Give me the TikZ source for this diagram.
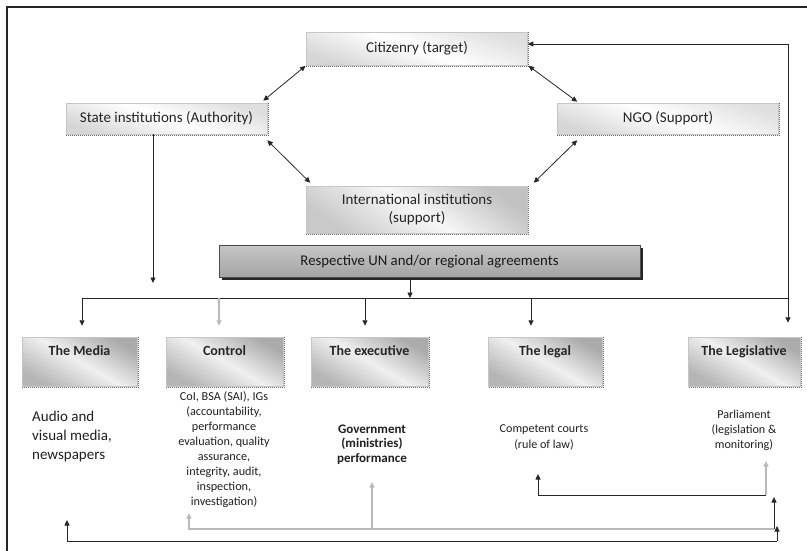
\documentclass[tikz,border=0pt]{standalone}
\usepackage{fontspec}
\setmainfont{Carlito}
\usetikzlibrary{arrows.meta}

% dotted shade along the lower and right edges of a box
\newcommand\edgeshade[1]{%
  \draw[densely dotted, black!60, line width=1pt]
    ([xshift=0.9pt]#1.north east) -- ([xshift=0.9pt,yshift=-0.9pt]#1.south east)
    -- ([yshift=-0.9pt]#1.south west);}

\begin{document}
\begin{tikzpicture}[x=1pt,y=-1pt,
  >={Triangle[length=5.5pt,width=5pt]},
  link/.style={draw=black!85, line width=0.8pt},
  palelink/.style={draw=gray!55, line width=1.3pt},
  boxbase/.style={draw=gray!45, line width=0.5pt, inner sep=0pt, align=center, text=black!85},
  lightbox/.style={boxbase, top color=gray!25, bottom color=gray!32, middle color=white,
    shading angle=-20, font=\fontsize{15}{18}\selectfont},
  midbox/.style={boxbase, top color=gray!48, bottom color=gray!42, middle color=gray!6,
    shading angle=-35, font=\fontsize{15}{18}\selectfont},
  barbox/.style={draw=black!70, line width=0.6pt, inner sep=0pt, top color=gray!45,
    bottom color=gray!72, text=black!90, font=\fontsize{14.8}{16}\selectfont},
  armbox/.style={boxbase, top color=gray!66, bottom color=gray!58, middle color=gray!12,
    shading angle=-30, minimum height=49pt, text height=18.5pt, text depth=30.5pt,
    inner ysep=0pt, font=\bfseries\fontsize{14}{16}\selectfont},
  note/.style={align=center, text=black!88, inner sep=0pt}
]
\useasboundingbox (0,0) rectangle (807,550);

% frame
\draw[gray!30!black, line width=1.2pt] (7,553) -- (7,7) -- (808,7);

% actors
\node[lightbox, minimum width=221pt, minimum height=33pt] (cit) at (417,48.5) {Citizenry (target)};
\node[lightbox, minimum width=201pt, minimum height=31pt] (state) at (166.5,118.5) {State institutions (Authority)};
\node[lightbox, minimum width=221pt, minimum height=31pt] (ngo) at (668,118.5) {NGO (Support)};
\node[midbox, minimum width=221pt, minimum height=47pt] (intl) at (417,209.5) {International institutions\\(support)};
\foreach \n in {cit,state,ngo,intl} {\edgeshade{\n}}

% agreements bar with drop shadow
\fill[black!85] (222,248) rectangle (643,280);
\node[barbox, minimum width=421pt, minimum height=32pt] (un) at (429.5,261.5) {Respective UN and/or regional agreements};

% branches
\node[armbox, minimum width=115pt] (media) at (79.5,361.5) {The Media};
\node[armbox, minimum width=117pt] (ctrl) at (224.5,361.5) {Control};
\node[armbox, minimum width=117pt] (exec) at (369.5,361.5) {The executive};
\node[armbox, minimum width=114pt] (legal) at (545,361.5) {The legal};
\node[armbox, minimum width=112pt] (legis) at (744,361.5) {The Legislative};
\foreach \n in {media,ctrl,exec,legal,legis} {\edgeshade{\n}}

% descriptions
\node[note, anchor=west, align=left, font=\fontsize{15}{19}\selectfont] (mediatxt) at (32,436)
  {Audio and\\visual media,\\newspapers};
\node[note, font=\fontsize{12.2}{14.9}\selectfont] (ctrltxt) at (224,449.5)
  {CoI, BSA (SAI), IGs\\(accountability,\\performance\\evaluation, quality\\assurance,\\integrity, audit,\\inspection,\\investigation)};
\node[note, font=\bfseries\fontsize{13}{14.5}\selectfont] (gov) at (372,444.5)
  {Government\\(ministries)\\performance};
\node[note, font=\fontsize{12.1}{16}\selectfont] (courts) at (544,437)
  {Competent courts\\(rule of law)};
\node[note, font=\fontsize{12.1}{15}\selectfont] (parl) at (744,430)
  {Parliament\\(legislation \&\\monitoring)};

% links among the actors
\draw[link, <->, shorten <=1pt] (cit.south west) -- ([xshift=-4pt,yshift=2pt]state.north east);
\draw[link, <->, shorten <=1pt] (cit.south east) -- ([xshift=20pt,yshift=1pt]ngo.north west);
\draw[link, <->] ([yshift=-6pt]state.south east) -- ([xshift=4pt,yshift=3pt]intl.north west);
\draw[link, <->] ([xshift=20pt,yshift=-6pt]ngo.south west) -- ([xshift=6pt,yshift=3pt]intl.north east);

% citizenry loop on the right
\coordinate (rc) at (788,44);
\draw[link, <->, shorten >=14pt] ([yshift=4.5pt]cit.east) -- (rc) -- (rc |- legis.north);

% state institutions drop
\coordinate (sd) at (153,134);
\draw[link, ->] (sd) -- (153,283);

% distribution bus
\coordinate (bus) at (410,298);
\coordinate (d1) at (82,298);
\coordinate (d2) at (219,298);
\coordinate (d3) at (365,298);
\coordinate (d4) at (531,298);
\coordinate (d5) at (788,298);
\draw[link, ->] ([xshift=-19.5pt]un.south) -- (bus);
\draw[link] (d1) -- (d5);
\draw[link, ->, shorten >=11pt] (d1) -- (d1 |- media.north);
\draw[palelink, ->, shorten >=11pt] (d2) -- (d2 |- ctrl.north);
\draw[link, ->, shorten >=11pt] (d3) -- (d3 |- exec.north);
\draw[link, ->, shorten >=11pt] (d4) -- (d4 |- legal.north);

% feedback lines at the bottom
\coordinate (fa) at (538,495);
\coordinate (fb) at (766,495);
\draw[link, ->] (fa) -- (538,474);
\draw[link] (fa) -- (fb);
\draw[palelink, ->] (fb) -- (766,461);

\coordinate (ga) at (189,529);
\coordinate (gb) at (774,529);
\draw[palelink, ->] (gb) -- (ga) -- (189,513);
\draw[palelink, ->] (372,529) -- (372,482);
\draw[link, ->] (gb) -- (774,497);

\coordinate (ha) at (67,541);
\coordinate (hb) at (777,541);
\draw[link, ->] (hb) -- (777,526);
\draw[link, ->] (hb) -- (ha) -- (67,520);
\end{tikzpicture}
\end{document}
